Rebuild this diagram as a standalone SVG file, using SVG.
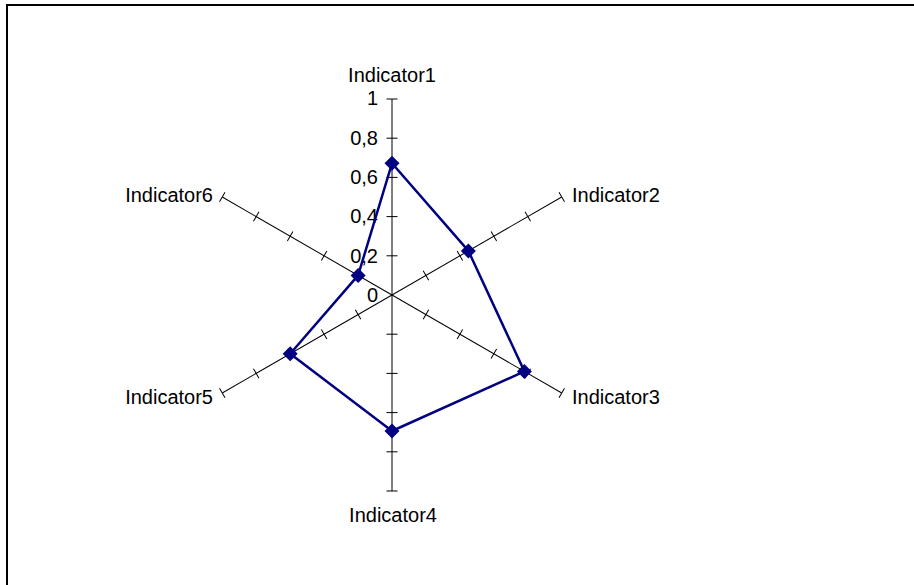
<svg xmlns="http://www.w3.org/2000/svg" width="914" height="585" viewBox="0 0 914 585">
<style>
text{font-family:"Liberation Sans",Arial,sans-serif;font-size:20px;fill:#000}
.ax{stroke:#000;stroke-width:1;fill:none}
.series{stroke:#000080;stroke-width:2.5;fill:none;stroke-linejoin:round}
.mk{fill:#000080}
.end{text-anchor:end}
.mid{text-anchor:middle}
</style>
<defs>
<g id="axis">
<line class="ax" x1="0" y1="0" x2="0" y2="-196"/>
<path class="ax" d="M-5.5,-39.2H5.5M-5.5,-78.4H5.5M-5.5,-117.6H5.5M-5.5,-156.8H5.5M-5.5,-196H5.5"/>
</g>
<path id="dm" d="M0,-7.5L7.5,0L0,7.5L-7.5,0Z"/>
</defs>
<rect x="0" y="0" width="914" height="585" fill="#fff"/>
<path d="M7,1000V5H1000" fill="none" stroke="#000" stroke-width="2"/>
<g id="connectors" transform="translate(392,295)">
<use href="#axis"/>
<use href="#axis" transform="rotate(60)"/>
<use href="#axis" transform="rotate(120)"/>
<use href="#axis" transform="rotate(180)"/>
<use href="#axis" transform="rotate(240)"/>
<use href="#axis" transform="rotate(300)"/>
</g>
<g id="scale">
<text class="end" x="378" y="105">1</text>
<text class="end" x="378" y="145">0,8</text>
<text class="end" x="378" y="184">0,6</text>
<text class="end" x="378" y="223">0,4</text>
<text class="end" x="378" y="263">0,2</text>
<text class="end" x="378" y="302">0</text>
</g>
<g id="labels">
<g id="indicator1"><text class="mid" x="392" y="82">Indicator1</text></g>
<g id="indicator2"><text x="572" y="202">Indicator2</text></g>
<g id="indicator3"><text x="572" y="404">Indicator3</text></g>
<g id="indicator4"><text class="mid" x="393" y="522">Indicator4</text></g>
<g id="indicator5"><text class="end" x="213" y="404">Indicator5</text></g>
<g id="indicator6"><text class="end" x="213" y="202">Indicator6</text></g>
</g>
<g id="series">
<polygon class="series" points="392,163.3 468.4,250.9 524.4,371.4 392,431 290.2,353.8 358.1,275.4"/>
<use class="mk" href="#dm" x="392" y="163.3"/>
<use class="mk" href="#dm" x="468.4" y="250.9"/>
<use class="mk" href="#dm" x="524.4" y="371.4"/>
<use class="mk" href="#dm" x="392" y="431"/>
<use class="mk" href="#dm" x="290.2" y="353.8"/>
<use class="mk" href="#dm" x="358.1" y="275.4"/>
</g>
</svg>
